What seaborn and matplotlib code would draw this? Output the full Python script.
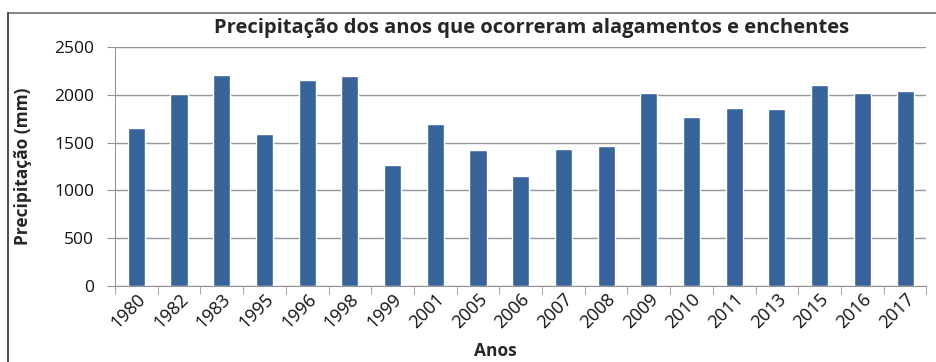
import matplotlib
matplotlib.use("Agg")
import matplotlib.pyplot as plt
from matplotlib.lines import Line2D
from matplotlib.ticker import FixedLocator
import seaborn as sns
import pandas as pd

anos = ["1980", "1982", "1983", "1995", "1996", "1998", "1999", "2001", "2005", "2006",
        "2007", "2008", "2009", "2010", "2011", "2013", "2015", "2016", "2017"]
precipitacao = [1650, 2010, 2210, 1590, 2160, 2195, 1270, 1700, 1420, 1150,
                1430, 1460, 2015, 1770, 1860, 1850, 2105, 2015, 2035]

df = pd.DataFrame({"Anos": anos, "Precipitação": precipitacao})

sns.set_style("white")
plt.rcParams['font.family'] = ['Open Sans', 'DejaVu Sans']

fig = plt.figure(figsize=(9.37, 3.62), dpi=100)
ax = fig.add_axes([0.1227, 0.21, 0.866, 0.66])

sns.barplot(data=df, x="Anos", y="Precipitação", color="#38649A", saturation=1,
            width=0.4, ax=ax, order=anos)

ax.set_ylim(0, 2500)
ax.set_xlim(-0.5, len(anos) - 0.5)
ax.set_yticks([0, 500, 1000, 1500, 2000, 2500])
ax.yaxis.grid(True, color="#959595", linewidth=1)
ax.set_axisbelow(True)

for s in ["top", "right"]:
    ax.spines[s].set_visible(False)
ax.spines["left"].set_color("#959595")
ax.spines["bottom"].set_color("#959595")

ax.tick_params(axis="y", which="major", length=6, color="#959595", direction="out",
               labelsize=12.5, pad=9, left=True, labelcolor="#111111")
ax.tick_params(axis="x", which="major", length=0, labelsize=13, pad=3, labelcolor="#111111")
ax.xaxis.set_minor_locator(FixedLocator([i - 0.5 for i in range(len(anos) + 1)]))
ax.tick_params(axis="x", which="minor", length=6, color="#959595", direction="out", bottom=True)

for lab in ax.get_xticklabels():
    lab.set_rotation(45)
    lab.set_ha("right")
    lab.set_rotation_mode("anchor")

ax.set_xlabel("Anos", fontsize=12.5, fontweight="bold", labelpad=10)
ax.xaxis.set_label_coords(0.469, -0.235)
ax.set_ylabel("Precipitação (mm)", fontsize=12.5, fontweight="bold", labelpad=16)
ax.set_title("Precipitação dos anos que ocorreram alagamentos e enchentes",
             fontsize=14.5, fontweight="bold", pad=10, x=0.513)

# chart frame
fig.add_artist(Line2D([8 / 937, 1.0], [1 - 13 / 362, 1 - 13 / 362], transform=fig.transFigure,
                      color="#707070", linewidth=1.2))
fig.add_artist(Line2D([8 / 937, 8 / 937], [0, 1 - 13 / 362], transform=fig.transFigure,
                      color="#303030", linewidth=1.2))

fig.savefig("out.png", dpi=100)
